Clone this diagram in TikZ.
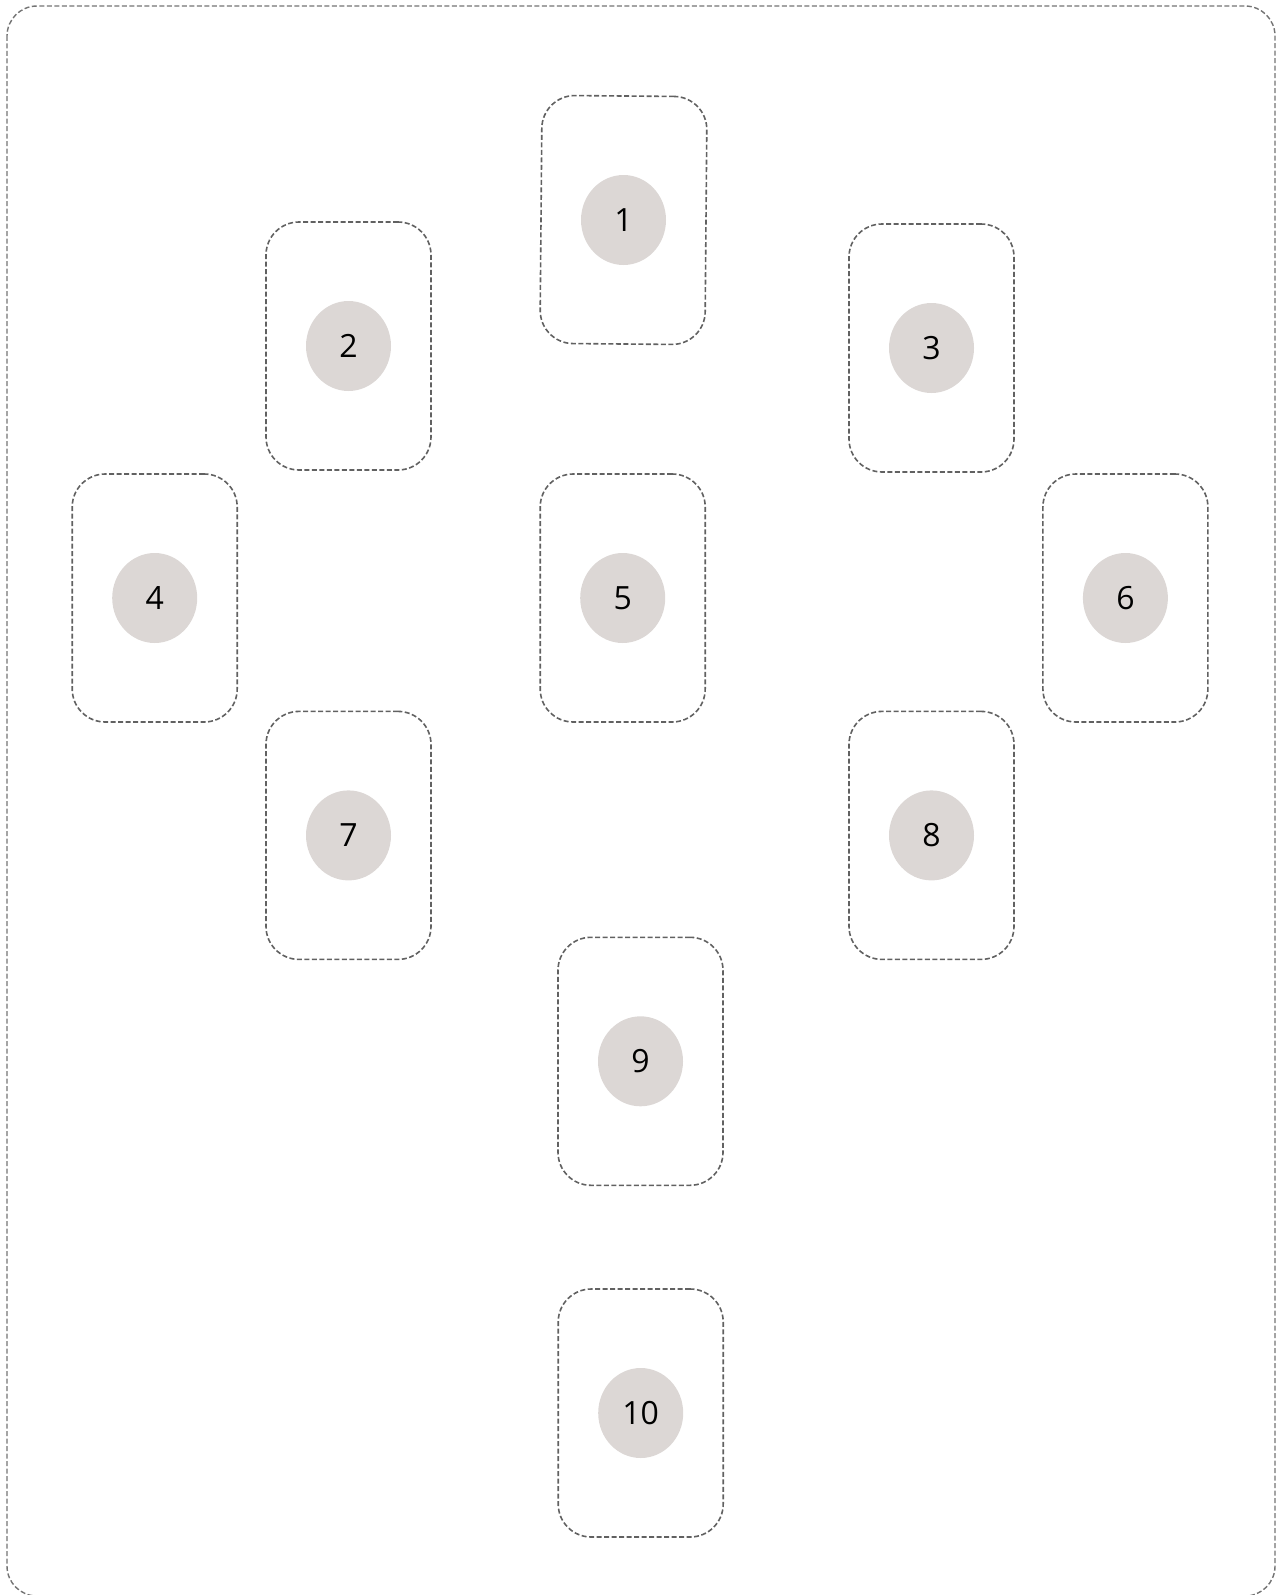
\documentclass[tikz,border=0pt]{standalone}
\usepackage{fontspec}
\setmainfont{Open Sans}
\usetikzlibrary{shapes.geometric}
\definecolor{dotgray}{HTML}{DCD7D5}
\begin{document}
\begin{tikzpicture}[x=1pt,y=-1pt,
  card/.style={draw=black!62, line width=1.6pt, dash pattern=on 5pt off 2.5pt, rounded corners=33pt, minimum width=165pt, minimum height=248pt, inner sep=0pt},
  num/.style={ellipse, fill=dotgray, minimum width=85pt, minimum height=90pt, inner sep=0pt, font=\fontsize{32}{38}\selectfont, text=black},
  frame/.style={draw=black!55, line width=1.4pt, dash pattern=on 5pt off 2.5pt, rounded corners=30pt}]
\useasboundingbox (0,0) rectangle (1279,1595);
\draw[frame] (7,6) rectangle (1275,1596);
\foreach \n/\x/\y/\r in {1/623.5/220/-0.5, 2/348.5/346/0, 3/931.5/348/0, 4/154.7/598/0, 5/622.7/598/0, 6/1125.4/598/0, 7/348.5/835.4/0, 8/931.5/835.4/0, 9/640.5/1061.3/0, 10/640.7/1413/0}{
  \node[card, rotate=\r] (c\n) at (\x,\y) {};
  \node[num] (n\n) at (\x,\y) {\n};
}
\end{tikzpicture}
\end{document}
